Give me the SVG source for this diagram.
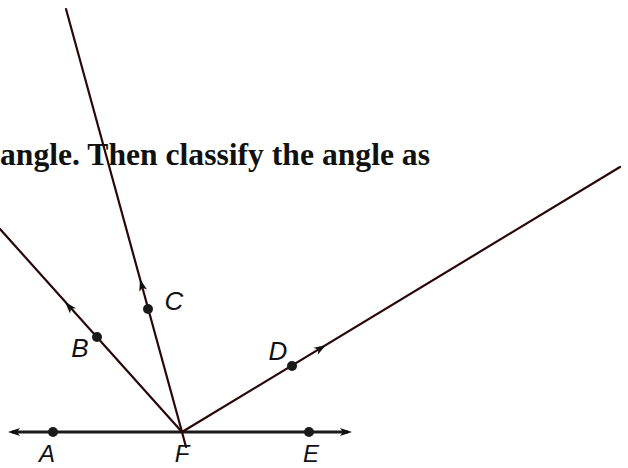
<svg xmlns="http://www.w3.org/2000/svg" width="628" height="468" viewBox="0 0 628 468">
<defs>
<style>
.ray{stroke:#2b0707;stroke-width:2.2;fill:none;stroke-linecap:round}
.base{stroke:#1a1a1a;stroke-width:3;fill:none}
.dot{fill:#1a1a1a}
.lbl{font-family:"Liberation Sans",Arial,sans-serif;font-style:italic;font-size:26px;fill:#111;text-anchor:middle}
.lbl2{font-family:"Liberation Sans",Arial,sans-serif;font-style:italic;font-size:24px;fill:#111;text-anchor:middle}
.head{fill:#111}
.title{font-family:"Liberation Serif","Times New Roman",serif;font-weight:bold;font-size:32px;fill:#111}
</style>
<path id="ah" d="M0,0 L-12,-4 L-9,0 L-12,4 Z"/>
</defs>
<rect width="628" height="468" fill="#fff"/>
<text class="title" x="0" y="165" textLength="430" lengthAdjust="spacingAndGlyphs">angle. Then classify the angle as</text>
<g id="connectors">
<path class="base" d="M12,432 L348,432"/>
<use href="#ah" class="head" transform="translate(352,432)"/>
<use href="#ah" class="head" transform="translate(8,432) rotate(180)"/>
<path class="ray" d="M182,432 L0,229"/>
<path class="ray" d="M186,447 L182,432 L66,9"/>
<path class="ray" d="M182,432 L620,167"/>
<use href="#ah" class="head" transform="translate(65,302) rotate(-131.9)"/>
<use href="#ah" class="head" transform="translate(140,279) rotate(-105.3)"/>
<use href="#ah" class="head" transform="translate(326,345) rotate(-31.2)"/>
</g>
<g id="node-A"><circle class="dot" cx="53" cy="432" r="5"/><text class="lbl2" x="47" y="462">A</text></g>
<g id="node-B"><circle class="dot" cx="97" cy="337" r="5"/><text class="lbl" x="80" y="357">B</text></g>
<g id="node-C"><circle class="dot" cx="148" cy="309" r="5"/><text class="lbl" x="174" y="310">C</text></g>
<g id="node-D"><circle class="dot" cx="292" cy="366" r="5"/><text class="lbl" x="278" y="360">D</text></g>
<g id="node-E"><circle class="dot" cx="309" cy="432" r="5"/><text class="lbl2" x="311" y="462">E</text></g>
<g id="node-F"><text class="lbl2" x="182" y="462">F</text></g>
</svg>
